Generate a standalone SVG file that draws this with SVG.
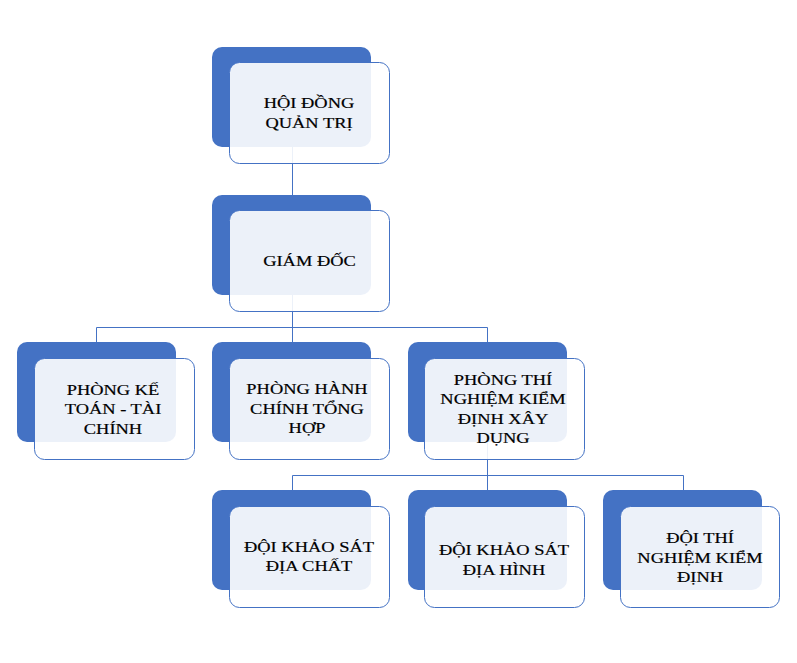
<svg xmlns="http://www.w3.org/2000/svg" width="797" height="663" viewBox="0 0 797 663">
<style>
.bk{fill:#4472C4;}
.fr{fill:#ffffff;fill-opacity:0.9;stroke:#4472C4;stroke-width:1;}
.t{font-family:"Liberation Serif","Times New Roman",serif;font-size:15.5px;fill:#000;stroke:#000;stroke-width:0.2;text-anchor:middle;}
.ln{fill:none;stroke:#4472C4;stroke-width:1;}
</style>
<rect width="797" height="663" fill="#ffffff"/>
<g id="connectors">
<path class="ln" d="M292.5,100 V260"/>
<path class="ln" d="M292.5,260 V327.5 M96.5,327.5 H487.5 M96.5,327.5 V390 M292.5,327.5 V390 M487.5,327.5 V390"/>
<path class="ln" d="M487.5,400 V475.5 M292.5,475.5 H683.5 M292.5,475.5 V540 M487.5,475.5 V540 M683.5,475.5 V540"/>
</g>
<g id="n1">
<rect class="bk" x="212" y="47" width="159" height="100" rx="10"/>
<rect class="fr" x="229.5" y="62.5" width="160" height="101" rx="10"/>
<text class="t" transform="translate(309,0) scale(1.19,1)"><tspan x="0" y="108.5">HỘI ĐỒNG</tspan><tspan x="0" y="128.5">QUẢN TRỊ</tspan></text>
</g>
<g id="n2">
<rect class="bk" x="212" y="195" width="159" height="100" rx="10"/>
<rect class="fr" x="229.5" y="210.5" width="160" height="101" rx="10"/>
<text class="t" transform="translate(309.5,0) scale(1.19,1)"><tspan x="0" y="266">GIÁM ĐỐC</tspan></text>
</g>
<g id="n3">
<rect class="bk" x="17" y="342" width="159" height="100" rx="10"/>
<rect class="fr" x="34.5" y="358.5" width="160" height="101" rx="10"/>
<text class="t" transform="translate(113,0) scale(1.19,1)"><tspan x="0" y="395">PHÒNG KẾ</tspan><tspan x="0" y="414.3">TOÁN - TÀI</tspan><tspan x="0" y="433.6">CHÍNH</tspan></text>
</g>
<g id="n4">
<rect class="bk" x="212" y="342" width="159" height="100" rx="10"/>
<rect class="fr" x="229.5" y="358.5" width="160" height="101" rx="10"/>
<text class="t" transform="translate(307,0) scale(1.19,1)"><tspan x="0" y="394.5">PHÒNG HÀNH</tspan><tspan x="0" y="413.8">CHÍNH TỔNG</tspan><tspan x="0" y="433">HỢP</tspan></text>
</g>
<g id="n5">
<rect class="bk" x="408" y="342" width="159" height="100" rx="10"/>
<rect class="fr" x="424.5" y="358.5" width="160" height="101" rx="10"/>
<text class="t" transform="translate(503,0) scale(1.19,1)"><tspan x="0" y="385">PHÒNG THÍ</tspan><tspan x="0" y="404.3">NGHIỆM KIỂM</tspan><tspan x="0" y="423.6">ĐỊNH XÂY</tspan><tspan x="0" y="442.8">DỤNG</tspan></text>
</g>
<g id="n6">
<rect class="bk" x="212" y="490" width="159" height="100" rx="10"/>
<rect class="fr" x="229.5" y="506.5" width="160" height="101" rx="10"/>
<text class="t" transform="translate(309,0) scale(1.19,1)"><tspan x="0" y="552">ĐỘI KHẢO SÁT</tspan><tspan x="0" y="571.5">ĐỊA CHẤT</tspan></text>
</g>
<g id="n7">
<rect class="bk" x="408" y="490" width="159" height="100" rx="10"/>
<rect class="fr" x="424.5" y="506.5" width="160" height="101" rx="10"/>
<text class="t" transform="translate(504,0) scale(1.19,1)"><tspan x="0" y="555.5">ĐỘI KHẢO SÁT</tspan><tspan x="0" y="575">ĐỊA HÌNH</tspan></text>
</g>
<g id="n8">
<rect class="bk" x="603" y="490" width="159" height="100" rx="10"/>
<rect class="fr" x="620.5" y="506.5" width="159" height="101" rx="10"/>
<text class="t" transform="translate(700,0) scale(1.19,1)"><tspan x="0" y="543.5">ĐỘI THÍ</tspan><tspan x="0" y="563">NGHIỆM KIỂM</tspan><tspan x="0" y="582">ĐỊNH</tspan></text>
</g>
</svg>
